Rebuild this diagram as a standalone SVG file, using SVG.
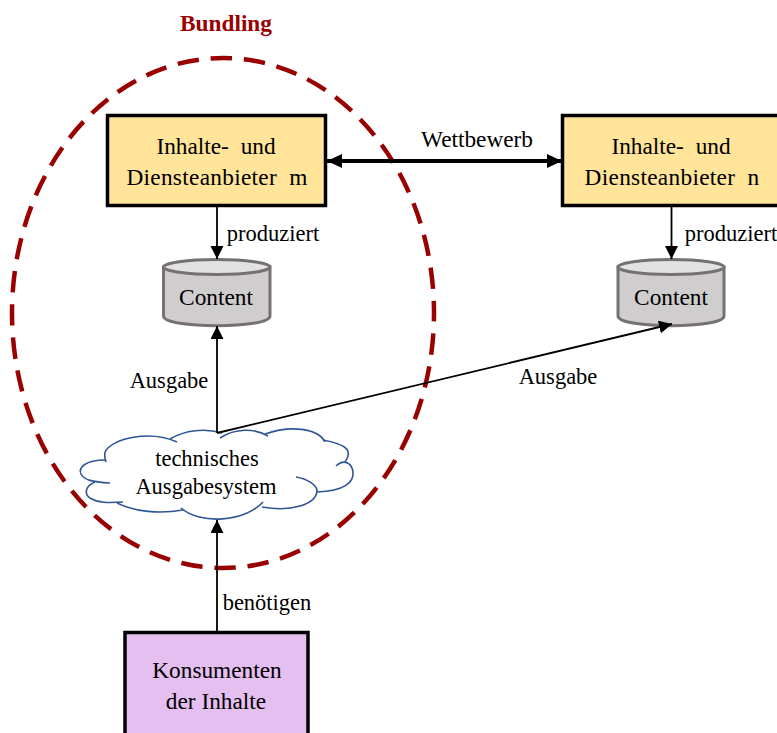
<svg xmlns="http://www.w3.org/2000/svg" width="777" height="733" viewBox="0 0 777 733">
<style>
text{font-family:"Liberation Serif","Times New Roman",serif;font-size:23.300px;fill:#000;text-anchor:middle}
.s{font-size:22.500px}
.box{fill:#ffe499;stroke:#000;stroke-width:3.5}
.cyl{fill:#cfcdcd;stroke:#767171;stroke-width:3}
.top{fill:#e2e2e2;stroke:#767171;stroke-width:3}
.c{fill:none;stroke:#000;stroke-width:1.800}
.cloud{fill:none;stroke:#2f5597;stroke-width:1.600}
</style>
<defs>
<marker id="a" markerUnits="userSpaceOnUse" markerWidth="14" markerHeight="14" refX="13" refY="6.5" orient="auto"><path d="M0 0L13 6.5L0 13Z" fill="#000"/></marker>
<marker id="b" markerUnits="userSpaceOnUse" markerWidth="16" markerHeight="14" refX="15" refY="7" orient="auto-start-reverse"><path d="M0 0L15 7L0 14Z" fill="#000"/></marker>
</defs>
<g id="bundling">
<ellipse cx="223" cy="313" rx="211" ry="255" fill="none" stroke="#990000" stroke-width="4.500" stroke-dasharray="21.500 11.850" stroke-dashoffset="13"/>
<text x="226" y="31" style="font-weight:bold;fill:#990000">Bundling</text>
</g>
<g id="anbieter-m">
<rect class="box" x="107.500" y="115.500" width="218" height="90"/>
<text x="216" y="154" word-spacing="6">Inhalte- und</text>
<text x="217" y="185" word-spacing="6" letter-spacing=".3">Diensteanbieter m</text>
</g>
<g id="anbieter-n">
<rect class="box" x="562.500" y="115.500" width="218" height="90"/>
<text x="671" y="154" word-spacing="6">Inhalte- und</text>
<text x="672" y="185" word-spacing="6" letter-spacing=".3">Diensteanbieter n</text>
</g>
<g id="content-m">
<path class="cyl" d="M163.500 267V316C163.500 329 270 329 270 316V267Z"/>
<ellipse class="top" cx="216.700" cy="267" rx="53.200" ry="7.500"/>
<text x="216" y="305">Content</text>
</g>
<g id="content-n">
<path class="cyl" d="M618 267V316C618 329 724 329 724 316V267Z"/>
<ellipse class="top" cx="671" cy="267" rx="53" ry="7.500"/>
<text x="671" y="305">Content</text>
</g>
<g id="ausgabesystem">
<path fill="#fff" d="M105 460C110 440 150 430 172 437C190 428 205 428 222 433C245 428 262 430 268 434C290 425 320 432 323 442C345 445 355 462 337 466C365 478 345 490 317 492C310 510 280 510 262 507C240 520 200 522 180 508C150 510 125 505 117 503C85 503 80 485 93 481C70 475 78 462 105 460Z"/>
<path class="cloud" d="M105 460C85 460 78 468 81 474C84 480 92 482 110 483"/>
<path class="cloud" d="M95 482C85 486 84 494 90 498C98 503 108 503 123 502"/>
<path class="cloud" d="M117 503C135 512 160 514 183 510"/>
<path class="cloud" d="M181 508C200 525 245 522 263 502"/>
<path class="cloud" d="M262 507C290 512 317 505 317 490C316 485 308 479 296 477"/>
<path class="cloud" d="M317 492C345 491 354 482 353 472C352 464 345 458 336 466"/>
<path class="cloud" d="M345 462C352 452 350 445 323 440"/>
<path class="cloud" d="M325 442C318 428 290 425 265 434"/>
<path class="cloud" d="M268 436C255 428 235 428 220 438"/>
<path class="cloud" d="M222 433C205 428 185 430 170 439"/>
<path class="cloud" d="M177 442C150 430 112 438 105 452C104 456 105 458 106 462"/>
<text x="207" y="466" class="s">technisches</text>
<text x="206" y="494" class="s">Ausgabesystem</text>
</g>
<g id="konsumenten">
<rect x="125" y="632.500" width="183" height="105" fill="#e4bff0" stroke="#000" stroke-width="3.500"/>
<text x="217" y="678">Konsumenten</text>
<text x="216" y="709">der Inhalte</text>
</g>
<g id="connectors">
<path class="c" d="M217 206V259" marker-end="url(#a)"/>
<path class="c" d="M671.500 206V259" marker-end="url(#a)"/>
<path class="c" d="M217 433V326" marker-end="url(#a)"/>
<path class="c" d="M217 433L672 324" marker-end="url(#a)"/>
<path class="c" d="M217 632V520" marker-end="url(#a)"/>
<path d="M327 161H562" fill="none" stroke="#000" stroke-width="4" marker-start="url(#b)" marker-end="url(#b)"/>
<text x="477" y="147">Wettbewerb</text>
<text x="273" y="241" class="s">produziert</text>
<text x="731" y="241" class="s">produziert</text>
<text x="169" y="388" class="s">Ausgabe</text>
<text x="558" y="384" class="s">Ausgabe</text>
<text x="267" y="610" class="s">benötigen</text>
</g>
</svg>
